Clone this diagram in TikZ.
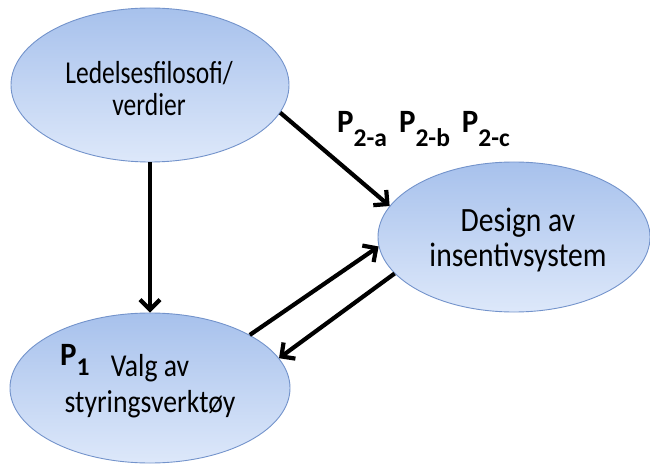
\documentclass[tikz,border=0pt]{standalone}
\usepackage{fontspec}
\usepackage{graphicx}
\setmainfont{Carlito}
\usetikzlibrary{arrows.meta, positioning, shapes.geometric}

\definecolor{bubbletop}{HTML}{A7C1EC}
\definecolor{bubblebot}{HTML}{DDE8FA}
\definecolor{bubbleline}{HTML}{7393CB}

% font size, vertical stretch, line distance, lines
\newcommand{\bubbletxt}[4]{\scalebox{1}[#2]{\fontsize{#1}{#3}\selectfont
  \begin{tabular}[t]{@{}c@{}}#4\end{tabular}}}
% lowering of the index, index
\newcommand{\prop}[2]{\scalebox{1}[1.05]{\fontsize{31}{32}\selectfont P}\raisebox{-#1}{\fontsize{25.5}{25}\selectfont #2}}

\tikzset{
  bubble/.style={ellipse, draw=bubbleline, line width=0.9pt,
                 top color=bubbletop, bottom color=bubblebot,
                 minimum width=278pt, minimum height=154pt, inner sep=0pt},
  bubbletext/.style={anchor=base, inner sep=0pt},
  link/.style={line width=4.2pt, -{Straight Barb[length=10pt, width=20pt]}},
  plabel/.style={font=\bfseries, anchor=base west, inner sep=0pt}
}

\begin{document}
\begin{tikzpicture}[x=1pt, y=-1pt]
  \useasboundingbox (0,0) rectangle (650,465);

  % Ellipses
  \node[bubble] (ledelse) at (150,85) {};
  \node[bubble, minimum width=272pt, minimum height=150pt] (design) at (514,237) {};
  \node[bubble, minimum width=280pt, minimum height=150pt] (valg) at (150,388) {};

  % Texts in the ellipses
  \node[bubbletext] (ledelsetext) at (149,84) {\bubbletxt{25.5}{1.25}{24}{Ledelsesfilosofi/\\verdier}};
  \node[bubbletext] (designtext) at (518,231) {\bubbletxt{29.6}{1.15}{31.3}{Design av\\insentivsystem}};
  \node[bubbletext] (valgtext) at (150,376) {\bubbletxt{27.7}{1.15}{32}{Valg av\\styringsverktøy}};

  % Arrows
  \draw[link] (ledelse.south) -- (valg.north);
  \draw[link] (ledelse.-12) -- (design.166);
  \draw[link] (valg.28) -- (design.184);
  \draw[link] (design.197) -- (valg.13);

  % Proposition labels
  \node[plabel] (ptwo) at (337,133) {\prop{14pt}{2-a}\hspace{12pt}\prop{14pt}{2-b}\hspace{12pt}\prop{14pt}{2-c}};
  \node[plabel] (pone) at (60,365) {\prop{10pt}{1}};
\end{tikzpicture}
\end{document}
